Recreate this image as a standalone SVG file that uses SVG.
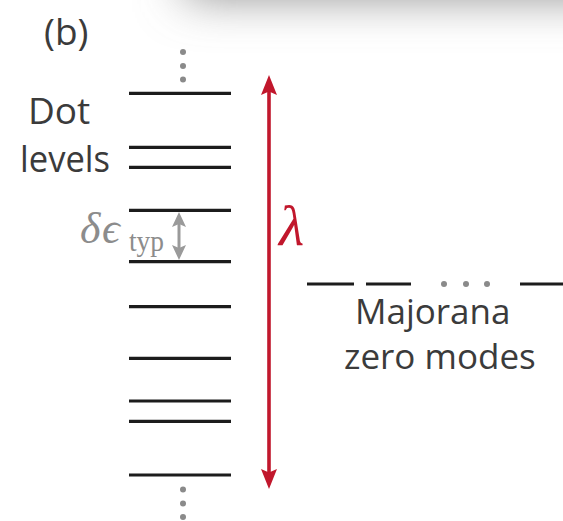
<svg xmlns="http://www.w3.org/2000/svg" width="563" height="521" viewBox="0 0 563 521">
  <style>
    .lvl { stroke: #1c1c1c; stroke-width: 3.2; }
    .dot { fill: #8a8a8a; }
    .lbl { font-family: "Open Sans", "Noto Sans", sans-serif; fill: #3b3b3b; }
    .math { font-family: "Liberation Serif", "DejaVu Serif", serif; }
  </style>
  <defs>
    <filter id="blur" filterUnits="userSpaceOnUse" x="-200" y="-300" width="1000" height="450">
      <feGaussianBlur stdDeviation="24"/>
    </filter>
    <marker id="redHead" markerUnits="userSpaceOnUse" markerWidth="24" markerHeight="20" viewBox="0 -10 24 20" refX="7" refY="0" orient="auto-start-reverse">
      <path d="M0,-8 L20,0 L0,8 L3.5,0 Z" fill="#c1172c"/>
    </marker>
    <marker id="grayHead" markerUnits="userSpaceOnUse" markerWidth="20" markerHeight="18" viewBox="0 -9 20 18" refX="5" refY="0" orient="auto-start-reverse">
      <path d="M0,-7 L15,0 L0,7 L3,0 Z" fill="#9a9a9a"/>
    </marker>
  </defs>

  <rect width="563" height="521" fill="#ffffff"/>
  <!-- top shadow -->
  <rect x="185" y="-200" width="600" height="196" fill="#888888" filter="url(#blur)"/>

  <text class="lbl" x="44" y="45" font-size="37">(b)</text>

  <g id="dot-levels">
    <g class="dot">
      <circle cx="183" cy="52" r="3"/>
      <circle cx="183" cy="66" r="3"/>
      <circle cx="183" cy="79.5" r="3"/>
    </g>
    <line class="lvl" x1="129" y1="93.3" x2="231" y2="93.3"/>
    <line class="lvl" x1="129" y1="147.3" x2="231" y2="147.3"/>
    <line class="lvl" x1="129" y1="167.3" x2="231" y2="167.3"/>
    <line class="lvl" x1="129" y1="210.3" x2="231" y2="210.3"/>
    <line class="lvl" x1="129" y1="261.7" x2="231" y2="261.7"/>
    <line class="lvl" x1="129" y1="306.7" x2="231" y2="306.7"/>
    <line class="lvl" x1="129" y1="358.3" x2="231" y2="358.3"/>
    <line class="lvl" x1="129" y1="401" x2="231" y2="401"/>
    <line class="lvl" x1="129" y1="421.3" x2="231" y2="421.3"/>
    <line class="lvl" x1="129" y1="475" x2="231" y2="475"/>
    <g class="dot">
      <circle cx="183" cy="489.5" r="3"/>
      <circle cx="183" cy="503.5" r="3"/>
      <circle cx="183" cy="517" r="3"/>
    </g>
    <text class="lbl" x="28" y="123.5" font-size="37">Dot</text>
    <text class="lbl" x="20" y="171.5" font-size="37" textLength="90" lengthAdjust="spacingAndGlyphs">levels</text>
  </g>

  <g id="spacing-label" fill="#8c8c8c">
    <text class="math" x="80" y="243" font-size="44" font-style="italic">δ</text>
    <text class="math" x="102" y="243" font-size="44" font-style="italic">ϵ</text>
    <text class="math" x="129" y="251" font-size="30" textLength="35" lengthAdjust="spacingAndGlyphs">typ</text>
  </g>

  <g id="majorana-modes">
    <g class="lvl" stroke-width="3.6">
      <line x1="307" y1="284" x2="354" y2="284"/>
      <line x1="366" y1="284" x2="411" y2="284"/>
      <line x1="520" y1="284" x2="563" y2="284"/>
    </g>
    <g class="dot">
      <circle cx="444" cy="284" r="3"/>
      <circle cx="466" cy="284" r="3"/>
      <circle cx="487" cy="284" r="3"/>
    </g>
    <text class="lbl" x="355" y="323.5" font-size="35">Majorana</text>
    <text class="lbl" x="344" y="368.5" font-size="35">zero modes</text>
  </g>

  <g id="lambda-label">
    <text class="math" x="279" y="245" font-size="58" font-style="italic" fill="#c1172c">λ</text>
  </g>

  <g id="connectors">
    <line x1="269" y1="88" x2="269" y2="476" stroke="#c1172c" stroke-width="3.6" marker-start="url(#redHead)" marker-end="url(#redHead)"/>
    <line x1="179" y1="222" x2="179" y2="250" stroke="#9a9a9a" stroke-width="3" marker-start="url(#grayHead)" marker-end="url(#grayHead)"/>
  </g>
</svg>
